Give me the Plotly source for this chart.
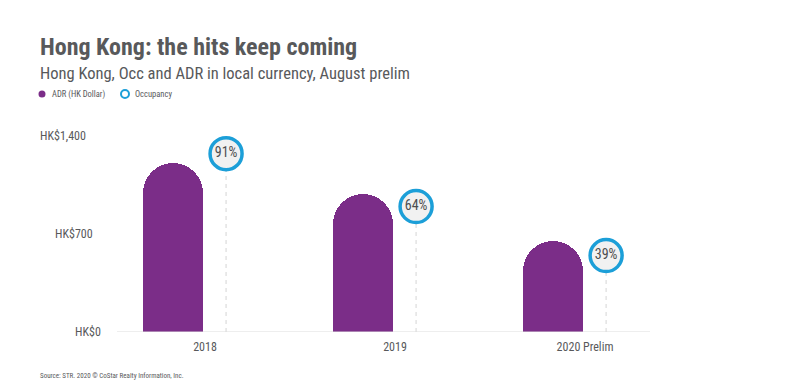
import plotly.graph_objects as go

categories = ["2018", "2019", "2020 Prelim"]
adr = [1206, 984, 653]
occupancy = [91, 64, 39]
occ_labels = ["91%", "64%", "39%"]
y_ticks = [0, 700, 1400]
y_tick_labels = ["HK$0", "HK$700", "HK$1,400"]

W, H = 800, 387
L, R, T, B = 117, 150, 136, 55
PW, PH = W - L - R, H - T - B

def px(x):
    return (x - L) / PW

def py(y):
    return (H - B - y) / PH

FONT = "Liberation Sans Narrow, Roboto Condensed, DejaVu Sans Condensed, sans-serif"
GRAY = "#58595b"
PURPLE = "#7b2d88"
BLUE = "#1c9fd8"

xs = list(range(len(categories)))
occ_off = 0.111

fig = go.Figure()
fig.add_trace(go.Bar(
    x=xs, y=adr, width=0.316, offset=-0.326,
    marker=dict(color=PURPLE, cornerradius="50%", line=dict(width=0)),
    showlegend=False, hoverinfo="skip",
))
for i, v in enumerate(occupancy):
    fig.add_trace(go.Scatter(
        x=[xs[i] + occ_off, xs[i] + occ_off], y=[0, v], yaxis="y2",
        mode="lines", line=dict(color="#dcdcdc", width=1.2, dash="4px,4px"),
        showlegend=False, hoverinfo="skip",
    ))
fig.add_trace(go.Scatter(
    x=[x + occ_off for x in xs], y=occupancy, yaxis="y2",
    mode="markers+text", text=occ_labels, textposition="middle center",
    textfont=dict(family=FONT, size=14, color="#4d4d4f"),
    marker=dict(size=32, color="#f1f1f1", line=dict(color=BLUE, width=3.5)),
    showlegend=False, hoverinfo="skip", cliponaxis=False,
))

annotations = [
    dict(text="<b>Hong Kong: the hits keep coming</b>", x=px(38), y=py(47),
         font=dict(family=FONT, size=24, color=GRAY)),
    dict(text="Hong Kong, Occ and ADR in local currency, August prelim", x=px(38), y=py(73),
         font=dict(family=FONT, size=16.5, color=GRAY)),
    dict(text="ADR (HK Dollar)", x=px(50), y=py(94),
         font=dict(family=FONT, size=8.5, color=GRAY)),
    dict(text="Occupancy", x=px(133), y=py(94),
         font=dict(family=FONT, size=8.5, color=GRAY)),
    dict(text="Source: STR. 2020 © CoStar Realty Information, Inc.", x=px(38), y=py(376),
         font=dict(family=FONT, size=7, color=GRAY)),
]
for a in annotations:
    a.update(xref="paper", yref="paper", xanchor="left", yanchor="middle", showarrow=False)

tick_left = [73, 53, 38]
for v, t, lx in zip(y_ticks, y_tick_labels, tick_left):
    annotations.append(dict(text=t, x=px(lx), y=v, xref="paper", yref="y",
                            xanchor="left", yanchor="middle", showarrow=False,
                            font=dict(family=FONT, size=12, color=GRAY)))

shapes = [
    dict(type="circle", xref="paper", yref="paper",
         x0=px(38.5), x1=px(45.5), y0=py(97.5), y1=py(90.5),
         fillcolor=PURPLE, line=dict(width=0)),
    dict(type="circle", xref="paper", yref="paper",
         x0=px(121), x1=px(129), y0=py(98), y1=py(90),
         fillcolor="white", line=dict(color=BLUE, width=2)),
    dict(type="line", xref="paper", yref="y", x0=0, x1=1, y0=0, y1=0,
         line=dict(color="#dddddd", width=1)),
]

fig.update_layout(
    width=W, height=H, margin=dict(l=L, r=R, t=T, b=B),
    paper_bgcolor="white", plot_bgcolor="white",
    font=dict(family=FONT, color=GRAY),
    xaxis=dict(range=[-0.463, 2.342], tickmode="array", tickvals=xs, ticktext=categories,
               showgrid=False, zeroline=False, showline=False, ticks="",
               tickfont=dict(family=FONT, size=12, color=GRAY), ticklabelstandoff=6),
    yaxis=dict(range=[0, 1400], showgrid=False, zeroline=False, showticklabels=False),
    yaxis2=dict(range=[0, 100], overlaying="y", side="right", showgrid=False,
                zeroline=False, showticklabels=False),
    annotations=annotations, shapes=shapes, bargap=0,
)

fig.write_html("out.html", config={"displayModeBar": False},
               post_script="document.body.style.margin='0';")
